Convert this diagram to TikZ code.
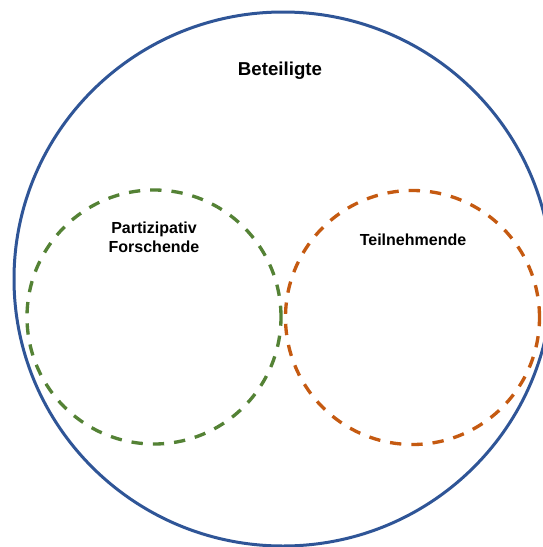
\documentclass[tikz,border=0pt]{standalone}
\usepackage{fontspec}
\setmainfont{Liberation Sans}
\def\px{.75pt}
\def\lw{2.25pt}
\definecolor{beteiligtblue}{HTML}{2F5597}
\definecolor{forschgreen}{HTML}{548235}
\definecolor{teilorange}{HTML}{C55A11}
\tikzset{
  ringline/.style={line width=\lw},
  dashring/.style={line width=2.5pt, dash pattern=on 8.5pt off 7.5pt},
  labeltext/.style={font=\bfseries\fontsize{12}{14.25}\selectfont, align=center, text=black}
}

\begin{document}
\begin{tikzpicture}[x=\px,y=-\px]
\useasboundingbox (0,0) rectangle (543,547);
\clip (0,0) rectangle (543,547);
\fill[white] (0,0) rectangle (543,547);

% all participants (outer ring, runs past the right and bottom edge)
\draw[ringline, beteiligtblue] (283,279) ellipse [x radius=201.75pt, y radius=200.25pt];
\node[labeltext, font=\bfseries\fontsize{14}{16}\selectfont] (beteiligte) at (280,71) {Beteiligte};

% the two groups inside
\draw[dashring, forschgreen] (154,317) circle [radius=95.25pt];
\draw[dashring, teilorange] (412.5,317.5) circle [radius=95.25pt];

\node[labeltext] (forschende) at (154,237) {Partizipativ\\Forschende};
\node[labeltext] (teilnehmende) at (413,240) {Teilnehmende};

\end{tikzpicture}
\end{document}
